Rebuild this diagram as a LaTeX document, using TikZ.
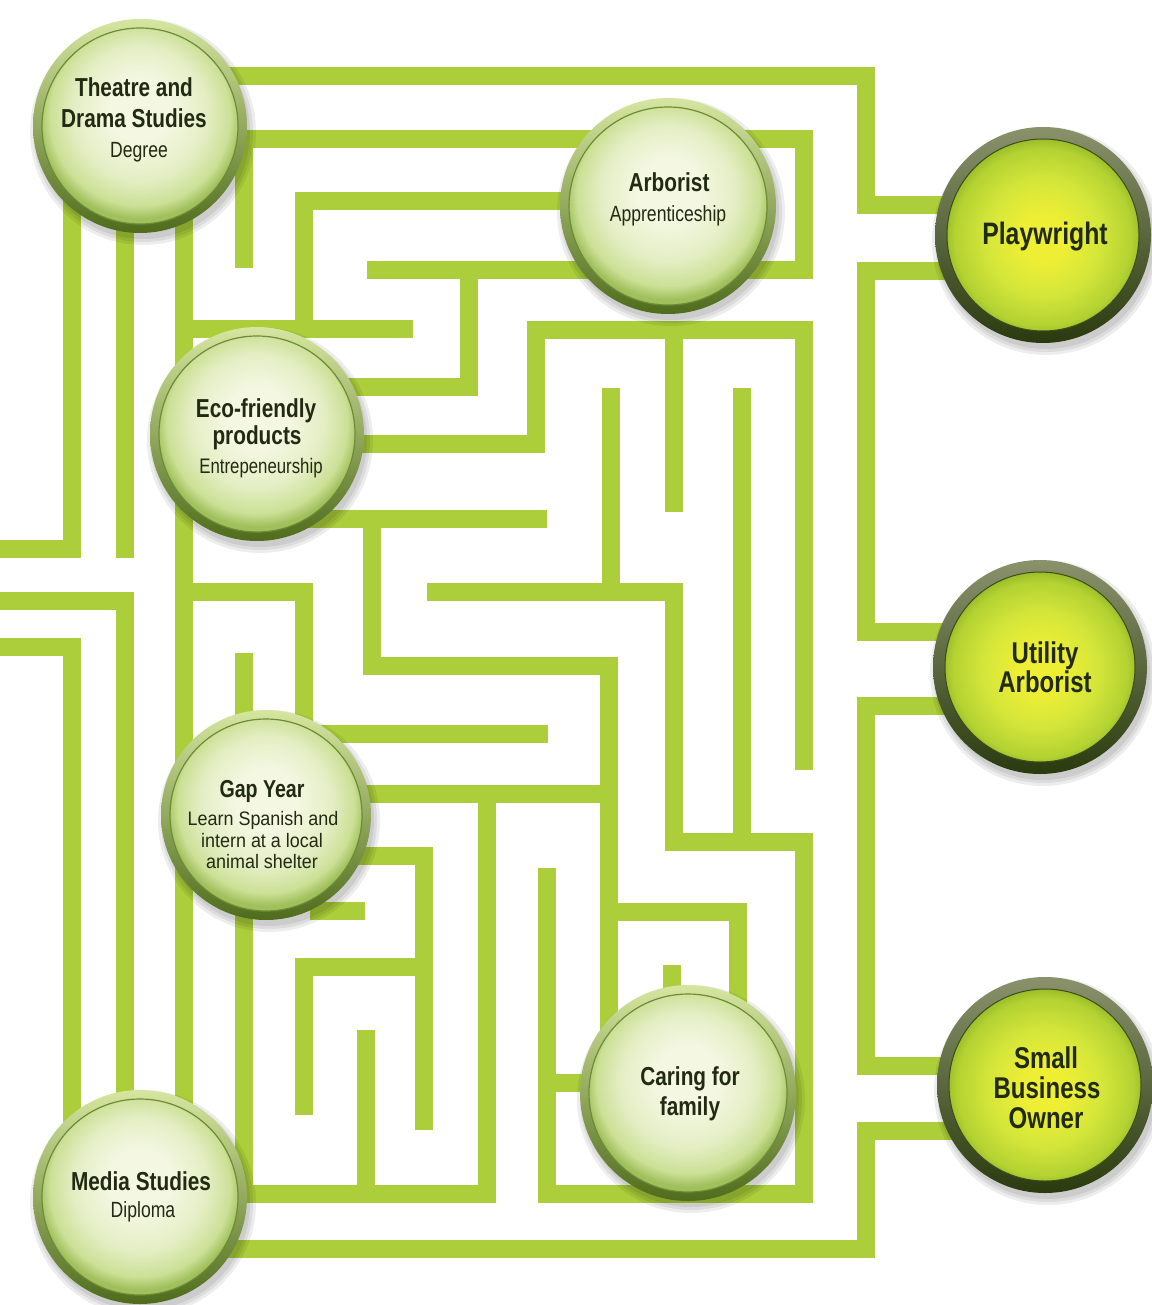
\documentclass[tikz,border=0pt]{standalone}
\usepackage{fontspec}
\newfontfamily\cf{Liberation Sans}[FakeStretch=0.8]
\newfontfamily\gf{Liberation Sans}[FakeStretch=0.92]
\definecolor{mazegreen}{RGB}{172,206,58}
\definecolor{ink}{RGB}{33,42,18}
\definecolor{pbt}{RGB}{214,230,160}
\definecolor{pbb}{RGB}{78,108,28}
\definecolor{pedge}{RGB}{110,140,55}
\definecolor{pf0}{RGB}{244,247,226}
\definecolor{pf1}{RGB}{228,238,196}
\definecolor{pf2}{RGB}{204,224,150}
\definecolor{pf3}{RGB}{160,192,92}
\definecolor{cbt}{RGB}{138,146,108}
\definecolor{cbb}{RGB}{42,58,14}
\definecolor{cedge}{RGB}{60,78,25}
\definecolor{cf0}{RGB}{238,238,52}
\definecolor{cf1}{RGB}{212,230,58}
\definecolor{cf2}{RGB}{180,210,50}
\definecolor{cf3}{RGB}{150,185,40}
\pgfdeclareradialshading{paleface}{\pgfpoint{0bp}{5bp}}{color(0bp)=(pf0); color(8bp)=(pf0); color(17bp)=(pf1); color(23bp)=(pf2); color(26bp)=(pf3); color(50bp)=(pf3)}
\pgfdeclareradialshading{careerface}{\pgfpoint{0bp}{-1bp}}{color(0bp)=(cf0); color(6bp)=(cf0); color(15bp)=(cf1); color(23bp)=(cf2); color(26bp)=(cf3); color(50bp)=(cf3)}
\newcommand\palecirc[4]{%
  \foreach \k in {6,3,0} {\fill[black,opacity=0.07] (#2+3,#3+6) circle[radius=#4pt+\k pt];}
  \node[circle,inner sep=0pt,minimum size=2*#4pt,top color=pbt,bottom color=pbb] (#1) at (#2,#3) {};
  \fill[shading=paleface] (#1.center) circle[radius=#4pt-9pt];
  \draw[line width=1.2pt,pedge] (#1.center) circle[radius=#4pt-9pt];
}
\newcommand\careercirc[4]{%
  \foreach \k in {6,3,0} {\fill[black,opacity=0.07] (#2+3,#3+6) circle[radius=#4pt+\k pt];}
  \node[circle,inner sep=0pt,minimum size=2*#4pt,top color=cbt,bottom color=cbb] (#1) at (#2,#3) {};
  \fill[shading=careerface] (#1.center) circle[radius=#4pt-12pt];
  \draw[line width=1pt,cedge] (#1.center) circle[radius=#4pt-12pt];
}
\begin{document}
\begin{tikzpicture}[x=1pt,y=-1pt,
  maze/.style={draw=mazegreen,line width=17.5pt},
  ttl/.style={anchor=base,inner sep=0pt,text=ink,font=\cf\bfseries\fontsize{26pt}{30pt}\selectfont},
  big/.style={anchor=base,inner sep=0pt,text=ink,font=\cf\bfseries\fontsize{31pt}{34pt}\selectfont},
  sub/.style={anchor=base,inner sep=0pt,text=ink,font=\cf\fontsize{22pt}{26pt}\selectfont},
  gsub/.style={anchor=base,inner sep=0pt,text=ink,font=\gf\fontsize{19.5pt}{22pt}\selectfont}]
\useasboundingbox (0,0) rectangle (1151,1305);
\fill[white] (0,0) rectangle (1151,1305);
% maze
\draw[maze] (200,76) -- (866,76) -- (866,205) -- (960,205);
\draw[maze] (200,139) -- (804,139) -- (804,270) -- (367,270);
\draw[maze] (244,139) -- (244,268);
\draw[maze] (600,201) -- (304,201) -- (304,329);
\draw[maze] (184,329) -- (413,329);
\draw[maze] (469,270) -- (469,387) -- (300,387);
\draw[maze] (300,444) -- (536,444) -- (536,330) -- (804,330) -- (804,770);
\draw[maze] (674,330) -- (674,512);
\draw[maze] (611,388) -- (611,592);
\draw[maze] (742,388) -- (742,842);
\draw[maze] (427,592) -- (674,592) -- (674,842) -- (804,842) -- (804,1194) -- (547,1194) -- (547,868);
\draw[maze] (300,519) -- (547,519);
\draw[maze] (372,519) -- (372,666) -- (609,666) -- (609,1040);
\draw[maze] (300,734) -- (548,734);
\draw[maze] (300,794) -- (609,794);
\draw[maze] (487,794) -- (487,1194) -- (244,1194) -- (244,880);
\draw[maze] (300,856) -- (424,856) -- (424,1130);
\draw[maze] (304,1115) -- (304,967) -- (424,967);
\draw[maze] (310,911) -- (365,911);
\draw[maze] (366,1030) -- (366,1194);
\draw[maze] (609,912) -- (738,912) -- (738,1010);
\draw[maze] (672,965) -- (672,1010);
\draw[maze] (547,1083) -- (620,1083);
\draw[maze] (200,1249) -- (866,1249) -- (866,1131) -- (960,1131);
\draw[maze] (960,271) -- (866,271) -- (866,632) -- (960,632);
\draw[maze] (960,706) -- (866,706) -- (866,1066) -- (960,1066);
\draw[maze] (0,549) -- (72,549) -- (72,180);
\draw[maze] (125,180) -- (125,558);
\draw[maze] (0,601) -- (125,601) -- (125,1150);
\draw[maze] (0,647) -- (72,647) -- (72,1150);
\draw[maze] (184,180) -- (184,1150);
\draw[maze] (244,653) -- (244,760);
\draw[maze] (184,592) -- (304,592) -- (304,760);
% circles
\palecirc{theatre}{140}{126}{107}
\palecirc{arb}{668}{206}{108}
\palecirc{eco}{257}{434}{107}
\palecirc{gap}{266}{815}{105}
\palecirc{caring}{688}{1093}{108}
\palecirc{media}{140}{1197}{107}
\careercirc{pw}{1043}{235}{108}
\careercirc{ua}{1040}{667}{107}
\careercirc{sb}{1045}{1085}{108}
% labels
\node[ttl] (theatre1) at (134,97) {Theatre and};
\node[ttl] (theatre2) at (134,128) {Drama Studies};
\node[sub] (theatre3) at (139,158) {Degree};
\node[ttl] (arb1) at (669,192) {Arborist};
\node[sub] (arb2) at (668,222) {Apprenticeship};
\node[big] (pw1) at (1045,245) {Playwright};
\node[ttl] (eco1) at (256,417) {Eco-friendly};
\node[ttl] (eco2) at (257,444) {products};
\node[sub,font=\cf\fontsize{21pt}{24pt}\selectfont] (eco3) at (261,473) {Entrepeneurship};
\node[big,font=\cf\bfseries\fontsize{30pt}{34pt}\selectfont] (ua1) at (1045,663) {Utility};
\node[big,font=\cf\bfseries\fontsize{30pt}{34pt}\selectfont] (ua2) at (1045,692) {Arborist};
\node[ttl,font=\cf\bfseries\fontsize{24.5pt}{28pt}\selectfont] (gap1) at (262,797) {Gap Year};
\node[gsub] (gap2) at (263,825) {Learn Spanish and};
\node[gsub] (gap3) at (262,847) {intern at a local};
\node[gsub] (gap4) at (262,868) {animal shelter};
\node[ttl] (caring1) at (690,1085) {Caring for};
\node[ttl] (caring2) at (690,1115) {family};
\node[big,font=\cf\bfseries\fontsize{30pt}{34pt}\selectfont] (sb1) at (1046,1068) {Small};
\node[big,font=\cf\bfseries\fontsize{30pt}{34pt}\selectfont] (sb2) at (1047,1098) {Business};
\node[big,font=\cf\bfseries\fontsize{30pt}{34pt}\selectfont] (sb3) at (1046,1128) {Owner};
\node[ttl] (media1) at (141,1190) {Media Studies};
\node[sub] (media2) at (143,1217) {Diploma};
\end{tikzpicture}
\end{document}
